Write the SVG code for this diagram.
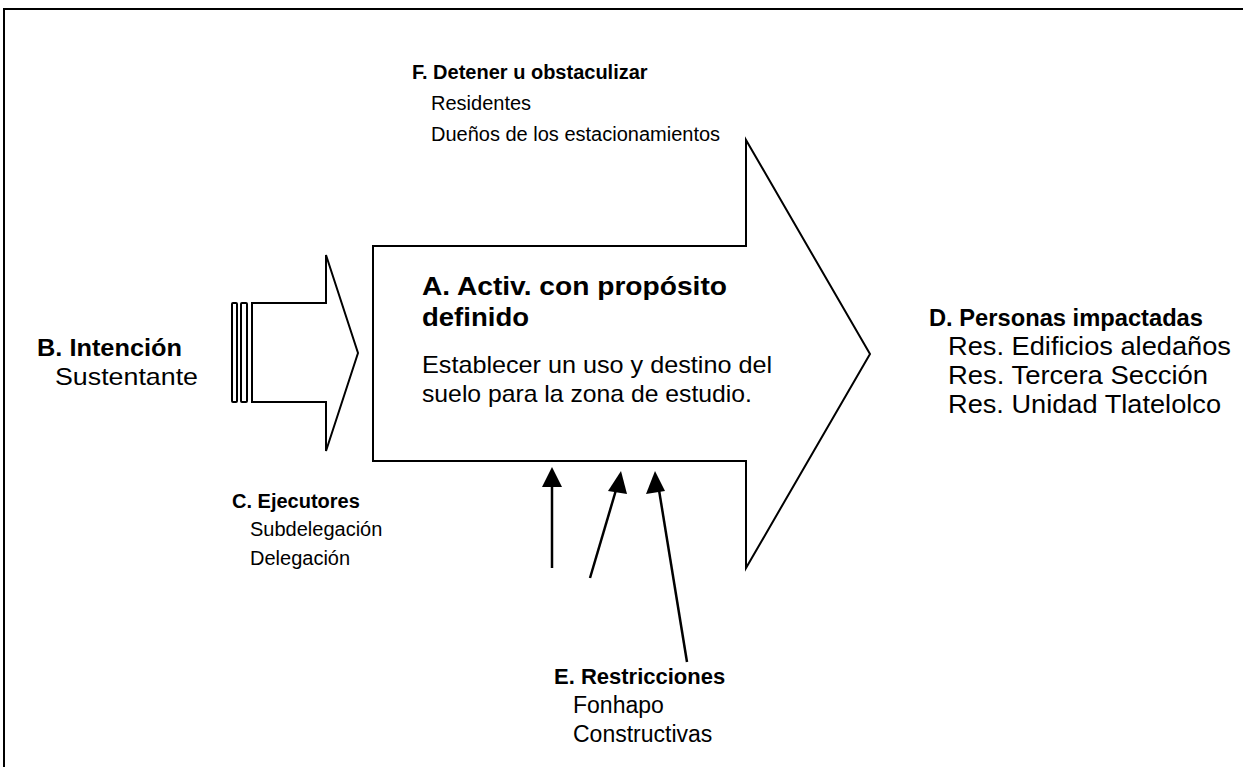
<svg xmlns="http://www.w3.org/2000/svg" width="1243" height="767" viewBox="0 0 1243 767">
<style>
text{font-family:"Liberation Sans",Arial,sans-serif;font-size:20px;fill:#000}
.b{font-weight:bold}
.shape{fill:#fff;stroke:#000;stroke-width:2}
#connectors line{stroke:#000;stroke-width:2.5}
#connectors polygon{fill:#000}
</style>
<rect width="1243" height="767" fill="#fff"/>
<path d="M4,767 V9 H1243" fill="none" stroke="#000" stroke-width="2"/>
<g id="nodeA">
<polygon class="shape" points="373,246 746,246 746,140 870,354 746,568 746,461 373,461"/>
<text class="b" x="422" y="295" style="font-size:26px" textLength="305" lengthAdjust="spacingAndGlyphs">A. Activ. con propósito</text>
<text class="b" x="422" y="326" style="font-size:26px" textLength="107" lengthAdjust="spacingAndGlyphs">definido</text>
<text x="422" y="373" style="font-size:24px" textLength="350" lengthAdjust="spacingAndGlyphs">Establecer un uso y destino del</text>
<text x="422" y="402" style="font-size:24px" textLength="330" lengthAdjust="spacingAndGlyphs">suelo para la zona de estudio.</text>
</g>
<g id="nodeB">
<rect class="shape" x="232" y="303" width="5" height="99" rx="1"/>
<rect class="shape" x="241" y="303" width="6" height="99" rx="1"/>
<polygon class="shape" points="252,303 326,303 326,255 358,353 326,451 326,402 252,402"/>
<text class="b" x="37" y="356" style="font-size:24px" textLength="145" lengthAdjust="spacingAndGlyphs">B. Intención</text>
<text x="55" y="385" style="font-size:24px" textLength="143" lengthAdjust="spacingAndGlyphs">Sustentante</text>
</g>
<g id="nodeC">
<text class="b" x="232" y="508">C. Ejecutores</text>
<text x="250" y="536">Subdelegación</text>
<text x="250" y="565">Delegación</text>
</g>
<g id="nodeD">
<text class="b" x="929" y="326" style="font-size:23px" textLength="274" lengthAdjust="spacingAndGlyphs">D. Personas impactadas</text>
<text x="948" y="355" style="font-size:25px" textLength="283" lengthAdjust="spacingAndGlyphs">Res. Edificios aledaños</text>
<text x="948" y="384" style="font-size:25px" textLength="260" lengthAdjust="spacingAndGlyphs">Res. Tercera Sección</text>
<text x="948" y="413" style="font-size:25px" textLength="273" lengthAdjust="spacingAndGlyphs">Res. Unidad Tlatelolco</text>
</g>
<g id="nodeE">
<text class="b" x="554" y="684" style="font-size:22px">E. Restricciones</text>
<text x="573" y="713" style="font-size:23px">Fonhapo</text>
<text x="573" y="742" style="font-size:23px">Constructivas</text>
</g>
<g id="nodeF">
<text class="b" x="412" y="79">F. Detener u obstaculizar</text>
<text x="431" y="110">Residentes</text>
<text x="431" y="141">Dueños de los estacionamientos</text>
</g>
<g id="connectors">
<line x1="552" y1="568" x2="552" y2="486"/>
<polygon points="552,467 542,487 562,487"/>
<line x1="590" y1="578" x2="616" y2="490"/>
<polygon points="621,471 608,491 627,494"/>
<line x1="687" y1="662" x2="659" y2="490"/>
<polygon points="655,471 646,494 665,491"/>
</g>
</svg>
